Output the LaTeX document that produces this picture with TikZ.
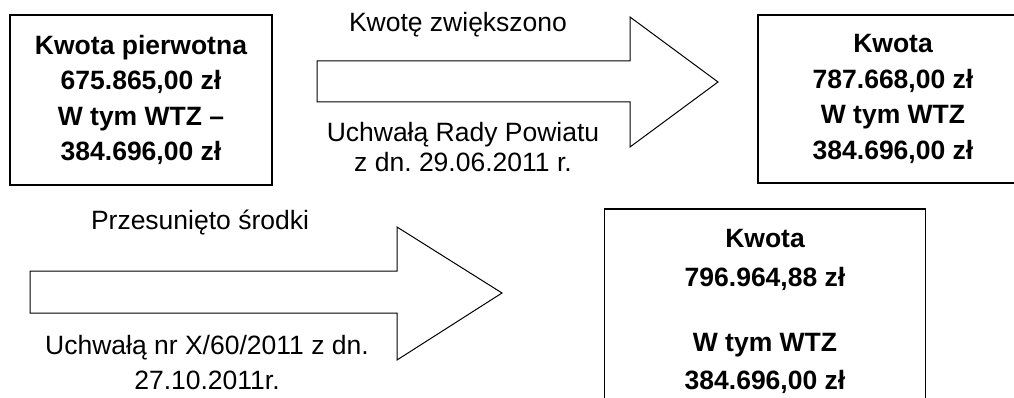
\documentclass[tikz,border=0pt]{standalone}
\usepackage{fontspec}
\setmainfont{Liberation Sans}
\usetikzlibrary{positioning}
\newcommand{\FSIZE}{26.5}
\tikzset{
  kwotabox/.style={draw, line width=1.3pt, align=center, inner sep=0pt,
    font=\bfseries\fontsize{\FSIZE}{35.5}\selectfont},
  arrowlabel/.style={align=center, inner sep=0pt,
    font=\fontsize{\FSIZE}{30}\selectfont},
  blockarrow/.style={draw, line width=1pt, line join=miter}
}

\begin{document}
\begin{tikzpicture}[x=1pt, y=-1pt]
    \fill[white] (0,0) rectangle (1014,398);
    \useasboundingbox (0,0) rectangle (1014,398);
    \clip (0,0) rectangle (1014,398);

    % kwoty
    \node[kwotabox, minimum width=262, minimum height=170] (pierwotna) at (141,100)
        {Kwota pierwotna\\675.865,00 zł\\W tym WTZ –\\384.696,00 zł};
    \node[kwotabox, minimum width=270, minimum height=168] (zwiekszona) at (893,99)
        {Kwota\\787.668,00 zł\\W tym WTZ\\384.696,00 zł};
    \node[kwotabox, minimum width=321, minimum height=205,
        font=\bfseries\fontsize{\FSIZE}{38.5}\selectfont] (przesunieta) at (765,311.5)
        {Kwota\\796.964,88 zł\\[26.5pt]W tym WTZ\\384.696,00 zł};

    % strzalka gorna
    \draw[blockarrow] (317,61) -- (630,61) -- (630,17) -- (718,82)
        -- (630,147) -- (630,102) -- (317,102) -- cycle;
    \node[arrowlabel] (zwiekszono) at (458,25) {Kwotę zwiększono};
    \node[arrowlabel] (uchwala1) at (463,147.5) {Uchwałą Rady Powiatu\\z dn.\ 29.06.2011 r.};

    % strzalka dolna
    \draw[blockarrow] (30,271) -- (397,271) -- (397,227) -- (502,293)
        -- (397,360) -- (397,313) -- (30,313) -- cycle;
    \node[arrowlabel] (przesunieto) at (200,223) {Przesunięto środki};
    \node[arrowlabel, font=\fontsize{\FSIZE}{35}\selectfont] (uchwala2) at (207,362.5)
        {Uchwałą nr X/60/2011 z dn.\\27.10.2011r.};
\end{tikzpicture}
\end{document}
